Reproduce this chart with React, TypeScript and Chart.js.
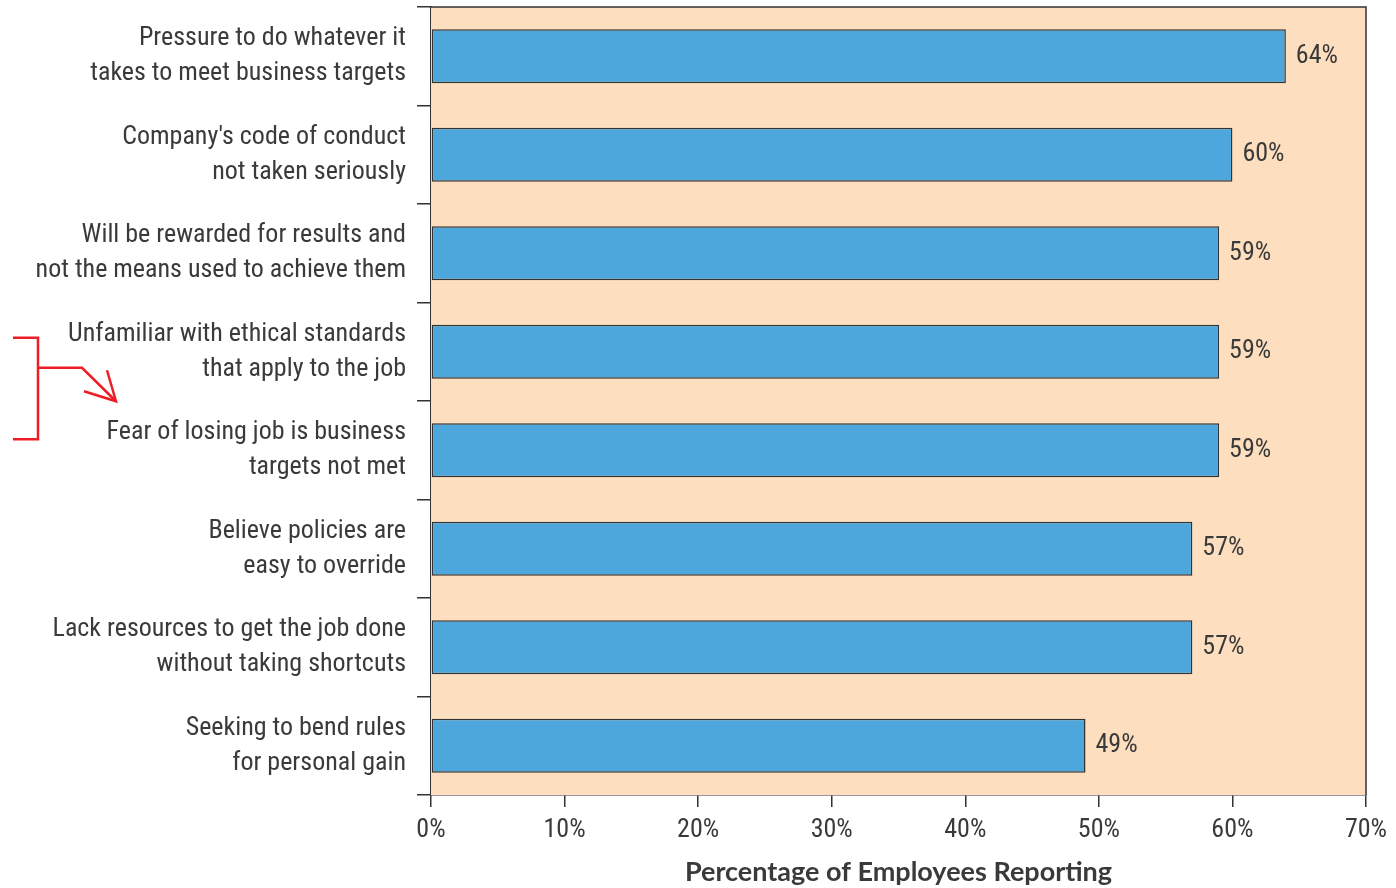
import React, { useEffect, useRef } from "react";
import { Chart, registerables } from "chart.js";

Chart.register(...registerables);

const categories: string[][] = [
  ["Pressure to do whatever it", "takes to meet business targets"],
  ["Company's code of conduct", "not taken seriously"],
  ["Will be rewarded for results and", "not the means used to achieve them"],
  ["Unfamiliar with ethical standards", "that apply to the job"],
  ["Fear of losing job is business", "targets not met"],
  ["Believe policies are", "easy to override"],
  ["Lack resources to get the job done", "without taking shortcuts"],
  ["Seeking to bend rules", "for personal gain"],
];
const values: number[] = [64, 60, 59, 59, 59, 57, 57, 49];
const valueLabels: string[] = ["64%", "60%", "59%", "59%", "59%", "57%", "57%", "49%"];
const xTickMax = 70;
const xTickStep = 10;
const axisTitle = "Percentage of Employees Reporting";
const highlightedRows: number[] = [3, 4];

const FONT = "'Liberation Sans Narrow', 'Roboto Condensed', 'Arial Narrow', 'Open Sans', sans-serif";
const TITLE_FONT = "Lato, 'Open Sans', sans-serif";
const TEXT = "#3a3a3a";
const LINE = "#333333";

export default function App() {
  const ref = useRef<HTMLCanvasElement | null>(null);

  useEffect(() => {
    document.body.style.margin = "0";
    const canvas = ref.current;
    if (!canvas) return;

    const bgPlugin = {
      id: "bg",
      beforeDatasetsDraw(chart: any) {
        const { ctx, chartArea: a } = chart;
        ctx.save();
        ctx.fillStyle = "#FDDFBF";
        ctx.fillRect(a.left, a.top, a.right - a.left, a.bottom - a.top);
        ctx.restore();
      },
      afterDraw(chart: any) {
        const { ctx, chartArea: a } = chart;
        ctx.save();
        ctx.strokeStyle = LINE;
        ctx.lineWidth = 1.5;
        ctx.beginPath();
        ctx.moveTo(a.left, a.top);
        ctx.lineTo(a.right, a.top);
        ctx.lineTo(a.right, a.bottom);
        ctx.stroke();
        ctx.restore();

        // red bracket annotation
        const y = chart.scales.y;
        const yA = y.getPixelForValue(highlightedRows[0]);
        const yB = y.getPixelForValue(highlightedRows[1]);
        ctx.save();
        ctx.strokeStyle = "#EE1C25";
        ctx.lineWidth = 2.5;
        ctx.lineJoin = "miter";
        ctx.beginPath();
        ctx.moveTo(13, yA - 14);
        ctx.lineTo(38, yA - 14);
        ctx.lineTo(38, yB - 11);
        ctx.lineTo(13, yB - 11);
        ctx.stroke();
        ctx.beginPath();
        ctx.moveTo(38, yA + 16);
        ctx.lineTo(82, yA + 16);
        ctx.lineTo(116, yB - 49);
        ctx.stroke();
        ctx.beginPath();
        ctx.moveTo(84, yB - 59);
        ctx.lineTo(116, yB - 49);
        ctx.lineTo(107, yB - 80);
        ctx.stroke();
        ctx.restore();
      },
      afterDatasetsDraw(chart: any) {
        const { ctx } = chart;
        const meta = chart.getDatasetMeta(0);
        ctx.save();
        ctx.fillStyle = TEXT;
        ctx.font = `26px ${FONT}`;
        ctx.textAlign = "left";
        ctx.textBaseline = "middle";
        meta.data.forEach((bar: any, i: number) => {
          ctx.fillText(valueLabels[i], bar.x + 10, bar.y);
        });
        ctx.restore();
      },
    };

    const chart = new Chart(canvas, {
      type: "bar",
      data: {
        labels: categories,
        datasets: [
          {
            data: values,
            backgroundColor: "#4DA7DC",
            borderColor: LINE,
            borderWidth: 1.5,
            borderSkipped: false,
            categoryPercentage: 1,
            barPercentage: 0.55,
          },
        ],
      },
      options: {
        indexAxis: "y",
        animation: false,
        responsive: false,
        maintainAspectRatio: false,
        layout: { padding: { top: 7, right: 30, left: 0, bottom: 0 } },
        plugins: { legend: { display: false }, tooltip: { enabled: false } },
        scales: {
          x: {
            min: 0,
            max: xTickMax,
            ticks: {
              stepSize: xTickStep,
              color: TEXT,
              font: { family: FONT, size: 26 },
              padding: 8,
              callback: (v: any) => `${v}%`,
            },
            grid: { drawOnChartArea: false, tickLength: 12, color: LINE, lineWidth: 1.5 },
            border: { color: LINE, width: 1.5 },
            title: {
              display: true,
              text: axisTitle,
              color: TEXT,
              font: { family: TITLE_FONT, size: 27, weight: "bold" },
              padding: { top: 8, bottom: 0 },
            },
            afterFit: (s: any) => {
              s.height = 93;
            },
          },
          y: {
            ticks: {
              color: TEXT,
              font: { family: FONT, size: 26, lineHeight: 1.35 },
              padding: 11,
            },
            grid: { drawOnChartArea: false, tickLength: 14, color: LINE, lineWidth: 1.5, offset: true },
            border: { color: LINE, width: 1.5 },
            afterFit: (s: any) => {
              s.width = 431;
              s.paddingTop = 0;
              s.paddingBottom = 0;
            },
          },
        },
      },
      plugins: [bgPlugin],
    } as any);

    return () => chart.destroy();
  }, []);

  return (
    <div style={{ width: 1396, height: 888 }}>
      <canvas ref={ref} width={1396} height={888} style={{ display: "block" }} />
    </div>
  );
}
